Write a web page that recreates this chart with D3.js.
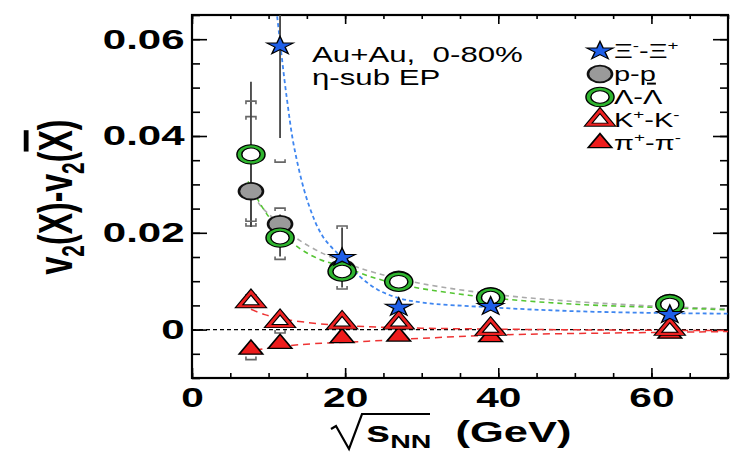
<!DOCTYPE html>
<html>
<head>
<meta charset="utf-8">
<script src="https://cdn.jsdelivr.net/npm/d3@7"></script>
<style>
  body { margin: 0; background: #fff; }
  text { font-family: "Liberation Sans", Arial, Helvetica, sans-serif; }
</style>
</head>
<body>
<svg id="chart" width="730" height="453"></svg>
<script>
// beam energies (GeV)
var energies = [7.7, 11.5, 19.6, 27, 39, 62.4]

// v2(X) - v2(Xbar) per particle, stat errors, sys errors (up / down)
var xiVals = [null, 0.0586, 0.0149, 0.0046, 0.0048, 0.0031]
var xiStat = [null, 0.019, 0.0062, 0.0016, 0.0009, 0.0008]
var xiSysUp = [null, 0.024, 0.0065, null, null, null]
var xiSysDn = [null, 0.024, 0.0065, null, null, null]

var pVals = [0.0286, 0.0218, 0.0127, 0.0103, 0.0069, 0.0055]
var pStat = [0.0072, 0.002, 0.001, 0.0008, 0.0006, 0.0005]
var pSysUp = [0.0154, 0.0033, null, null, null, null]
var pSysDn = [0.0072, null, null, null, null, null]

var lamVals = [0.0362, 0.019, 0.012, 0.0099, 0.0066, 0.0052]
var lamStat = [0.015, 0.0039, 0.0015, 0.001, 0.0008, 0.0006]
var lamSysUp = [0.011, null, null, null, null, null]
var lamSysDn = [0.0138, 0.0045, null, null, null, null]

var kVals = [0.0058, 0.0017, 0.0014, 0.0014, 0.0001, 0.0001]
var kStat = [0.001, 0.0006, 0.0005, 0.0004, 0.0004, 0.0004]
var kSysUp = [0.0014, null, null, null, null, null]
var kSysDn = [null, 0.0024, null, null, null, null]

var piVals = [-0.0041, -0.0029, -0.0017, -0.0014, -0.0015, -0.0008]
var piStat = [0.0008, 0.0006, 0.0004, 0.0004, 0.0004, 0.0004]
var piSysUp = [null, null, null, null, null, null]
var piSysDn = [0.0021, null, null, null, null, null]

// fit curves
var xiFitX = [10.8, 11.1, 11.6, 12.4, 13.4, 15.2, 17.1, 19.6, 21.9, 24.2, 26.8, 30, 39, 50, 62.4, 70]
var xiFitY = [0.069, 0.065, 0.058, 0.0476, 0.0372, 0.026, 0.0192, 0.0148, 0.011, 0.0083, 0.0066, 0.0056, 0.0046, 0.0038, 0.0034, 0.0033]
var pFitX = [7.4, 9, 11.5, 14, 17, 20, 24, 30, 40, 50, 62.4, 70]
var pFitY = [0.0295, 0.0255, 0.0218, 0.0185, 0.0158, 0.0138, 0.0117, 0.0095, 0.0072, 0.0058, 0.0047, 0.0043]
var lamFitX = [7.3, 9.3, 10.6, 13.7, 16.7, 19.7, 24.2, 28.8, 38.9, 50.6, 62.4, 70]
var lamFitY = [0.0306, 0.025, 0.0222, 0.0172, 0.0145, 0.013, 0.0105, 0.0088, 0.0066, 0.0052, 0.0045, 0.0041]
var kFitX = [7.7, 9.5, 12.3, 16.7, 23.2, 30, 40, 55, 70]
var kFitY = [0.0042, 0.0031, 0.0021, 0.0012, 0.0006, 0.0003, 0.0001, -0.0001, -0.0002]
var piFitX = [8.3, 11.5, 16, 23, 30, 40, 55, 70]
var piFitY = [-0.0042, -0.0035, -0.0029, -0.0024, -0.0018, -0.0011, -0.0007, -0.0004]

var xTicks = [0, 20, 40, 60]
var yTicks = [0, 0.02, 0.04, 0.06]
var legendLabels = ['Ξ', 'p', 'Λ', 'K', 'π']

;(function() {
  var svg = d3.select('#chart')
  var mL = 192, mR = 728, mT = 15, mB = 378
  var sx = 1.45 // the figure is stretched horizontally

  var x = d3.scaleLinear().domain([0, 70]).range([mL, mR])
  var y = d3.scaleLinear().domain([-0.01, 0.065]).range([mB, mT])

  svg.append('rect').attr('width', 730).attr('height', 453).attr('fill', '#fff')

  svg.append('clipPath').attr('id', 'plot')
    .append('rect').attr('x', mL).attr('y', mT).attr('width', mR - mL).attr('height', mB - mT)

  // axes: major + minor, ticks pointing inward
  function axisG(axis, tx, ty) {
    return svg.append('g').attr('transform', 'translate(' + tx + ',' + ty + ')').call(axis)
  }
  var minX = d3.range(0, 71, 5), minY = d3.range(-0.01, 0.0651, 0.005)
  var gx = axisG(d3.axisBottom(x).tickValues(xTicks).tickSizeInner(-10).tickSizeOuter(0).tickPadding(9).tickFormat(d3.format('d')), 0, mB)
  axisG(d3.axisBottom(x).tickValues(minX).tickSizeInner(-5).tickSizeOuter(0).tickFormat(''), 0, mB)
  axisG(d3.axisTop(x).tickValues(xTicks).tickSizeInner(-9).tickSizeOuter(0).tickFormat(''), 0, mT)
  axisG(d3.axisTop(x).tickValues(minX).tickSizeInner(-4).tickSizeOuter(0).tickFormat(''), 0, mT)
  var gy = axisG(d3.axisLeft(y).tickValues(yTicks).tickSizeInner(-15).tickSizeOuter(0).tickPadding(5)
    .tickFormat(function(d) { return d === 0 ? '0' : d3.format('.2f')(d) }), mL, 0)
  axisG(d3.axisLeft(y).tickValues(minY).tickSizeInner(-8).tickSizeOuter(0).tickFormat(''), mL, 0)
  axisG(d3.axisRight(y).tickValues(yTicks).tickSizeInner(-15).tickSizeOuter(0).tickFormat(''), mR, 0)
  axisG(d3.axisRight(y).tickValues(minY).tickSizeInner(-8).tickSizeOuter(0).tickFormat(''), mR, 0)

  svg.selectAll('.domain').remove()
  svg.selectAll('.tick line').attr('stroke', '#000').attr('stroke-width', 1.6)
  gx.selectAll('text').attr('font-size', 28).attr('font-weight', 'bold').attr('fill', '#000')
    .attr('transform', 'scale(1.45,1)')
  gy.selectAll('text').attr('font-size', 28).attr('font-weight', 'bold').attr('fill', '#000')
    .attr('transform', 'scale(1.5,1)')

  svg.append('rect').attr('x', mL).attr('y', mT).attr('width', mR - mL).attr('height', mB - mT)
    .attr('fill', 'none').attr('stroke', '#000').attr('stroke-width', 2.2)

  // zero line
  svg.append('line').attr('x1', mL).attr('x2', mR).attr('y1', y(0)).attr('y2', y(0))
    .attr('stroke', '#000').attr('stroke-width', 1.2).attr('stroke-dasharray', '4,3')

  var plot = svg.append('g').attr('clip-path', 'url(#plot)')

  // fits
  var line = d3.line().curve(d3.curveCatmullRom).x(function(d) { return x(d[0]) }).y(function(d) { return y(d[1]) })
  var fits = [
    { xs: piFitX, ys: piFitY, color: '#ee3333', dash: '7,5', w: 1.5 },
    { xs: kFitX, ys: kFitY, color: '#ee3333', dash: '7,5', w: 1.5 },
    { xs: pFitX, ys: pFitY, color: '#aaaaaa', dash: '5,4', w: 1.6 },
    { xs: lamFitX, ys: lamFitY, color: '#55c533', dash: '5,4', w: 1.6 },
    { xs: xiFitX, ys: xiFitY, color: '#3f86f0', dash: '4,3', w: 1.8 }
  ]
  fits.forEach(function(f) {
    plot.append('path').datum(d3.zip(f.xs, f.ys)).attr('d', line)
      .attr('fill', 'none').attr('stroke', f.color).attr('stroke-width', f.w).attr('stroke-dasharray', f.dash)
  })

  // series (drawn from bottom to top)
  var series = [
    { vals: piVals, stat: piStat, up: piSysUp, dn: piSysDn, kind: 'piMk' },
    { vals: kVals, stat: kStat, up: kSysUp, dn: kSysDn, kind: 'kMk' },
    { vals: pVals, stat: pStat, up: pSysUp, dn: pSysDn, kind: 'pMk' },
    { vals: lamVals, stat: lamStat, up: lamSysUp, dn: lamSysDn, kind: 'lamMk' },
    { vals: xiVals, stat: xiStat, up: xiSysUp, dn: xiSysDn, kind: 'xiMk' }
  ]

  var star = d3.symbol().type(d3.symbolStar).size(104)
  var tri = d3.symbol().type(d3.symbolTriangle).size(115)

  function marker(g, kind) {
    if (kind === 'xiMk') {
      g.append('path').attr('d', star).attr('fill', '#1f5fe8').attr('stroke', '#000').attr('stroke-width', 1)
    } else if (kind === 'pMk') {
      g.append('circle').attr('r', 8.3).attr('fill', '#9a9a9a').attr('stroke', '#111').attr('stroke-width', 1.8)
    } else if (kind === 'lamMk') {
      g.append('circle').attr('r', 8).attr('fill', '#fff').attr('stroke', '#000').attr('stroke-width', 4.4)
      g.append('circle').attr('r', 8).attr('fill', 'none').attr('stroke', '#2fb52f').attr('stroke-width', 2.4)
    } else if (kind === 'kMk') {
      g.append('path').attr('d', tri).attr('fill', '#fff').attr('stroke', '#000').attr('stroke-width', 4)
      g.append('path').attr('d', tri).attr('fill', 'none').attr('stroke', '#ee2222').attr('stroke-width', 2.2)
    } else {
      g.append('path').attr('d', tri).attr('fill', '#ee1c1c').attr('stroke', '#000').attr('stroke-width', 1.3)
    }
  }

  function bracket(xp, yp, dir) {
    // dir = 1 for upper bracket (legs point down), -1 for lower
    return 'M' + (xp - 5) + ',' + (yp + 3 * dir) + 'L' + (xp - 5) + ',' + yp + 'L' + (xp + 5) + ',' + yp + 'L' + (xp + 5) + ',' + (yp + 3 * dir)
  }

  series.forEach(function(s) {
    energies.forEach(function(e, i) {
      var v = s.vals[i]
      if (v === null) return
      var px = x(e)
      plot.append('line').attr('x1', px).attr('x2', px).attr('y1', y(v - s.stat[i])).attr('y2', y(v + s.stat[i]))
        .attr('stroke', '#444').attr('stroke-width', 1.8)
      if (s.up[i] !== null) plot.append('path').attr('d', bracket(px, y(v + s.up[i]), 1))
        .attr('fill', 'none').attr('stroke', '#666').attr('stroke-width', 1.6)
      if (s.dn[i] !== null) plot.append('path').attr('d', bracket(px, y(v - s.dn[i]), -1))
        .attr('fill', 'none').attr('stroke', '#666').attr('stroke-width', 1.6)
    })
  })
  series.forEach(function(s) {
    energies.forEach(function(e, i) {
      if (s.vals[i] === null) return
      var g = svg.append('g').attr('transform', 'translate(' + x(e) + ',' + y(s.vals[i]) + ') scale(' + sx + ',1)')
      marker(g, s.kind)
    })
  })

  // wide text helper
  function label(px, py, k) {
    return svg.append('g').attr('transform', 'translate(' + px + ',' + py + ') scale(' + k + ',1)').append('text')
  }

  // annotation
  label(312, 62, 1.42).attr('font-size', 22).text('Au+Au,\u00a0\u00a00-80%')
  label(312, 85, 1.42).attr('font-size', 22).text('η-sub EP')

  // legend
  var legKinds = ['xiMk', 'pMk', 'lamMk', 'kMk', 'piMk']
  var legY = [51, 74, 97, 120, 143]
  legKinds.forEach(function(k, i) {
    var g = svg.append('g').attr('transform', 'translate(600,' + legY[i] + ') scale(' + sx + ',1)')
    marker(g, k)
  })
  function legText(i) { return label(614, legY[i] + 7, 1.45).attr('font-size', 20) }
  var t0 = legText(0)
  t0.append('tspan').text(legendLabels[0])
  t0.append('tspan').attr('font-size', 13).attr('dy', -8).text('-')
  t0.append('tspan').attr('dy', 8).text('-' + legendLabels[0])
  t0.append('tspan').attr('font-size', 13).attr('dy', -8).text('+')
  var t1 = legText(1)
  t1.append('tspan').text(legendLabels[1] + '-')
  t1.append('tspan').style('text-decoration', 'underline').text(legendLabels[1])
  legText(2).text(legendLabels[2] + '-' + legendLabels[2])
  var t3 = legText(3)
  t3.append('tspan').text(legendLabels[3])
  t3.append('tspan').attr('font-size', 13).attr('dy', -8).text('+')
  t3.append('tspan').attr('dy', 8).text('-' + legendLabels[3])
  t3.append('tspan').attr('font-size', 13).attr('dy', -8).text('-')
  var t4 = legText(4)
  t4.append('tspan').text(legendLabels[4])
  t4.append('tspan').attr('font-size', 13).attr('dy', -8).text('+')
  t4.append('tspan').attr('dy', 8).text('-' + legendLabels[4])
  t4.append('tspan').attr('font-size', 13).attr('dy', -8).text('-')

  // y title
  var yt = svg.append('g').attr('transform', 'translate(72,197) scale(1.5,1) rotate(-90)')
    .append('text').attr('text-anchor', 'middle').attr('font-size', 32).attr('font-weight', 'bold')
  yt.append('tspan').text('v')
  yt.append('tspan').attr('font-size', 21).attr('dy', 8).text('2')
  yt.append('tspan').attr('dy', -8).text('(X)-v')
  yt.append('tspan').attr('font-size', 21).attr('dy', 8).text('2')
  yt.append('tspan').attr('dy', -8).text('(')
  yt.append('tspan').style('text-decoration', 'overline').text('X')
  yt.append('tspan').text(')')

  // x title
  svg.append('path').attr('d', 'M331,429L336,426L349,449L362,414L430,414')
    .attr('fill', 'none').attr('stroke', '#000').attr('stroke-width', 2.2)
  var xt = label(366, 442, 1.5).attr('font-size', 29).attr('font-weight', 'bold')
  xt.append('tspan').text('s')
  xt.append('tspan').attr('font-size', 19).attr('dy', 6).text('NN')
  xt.append('tspan').attr('dy', -6).attr('font-size', 29).text('\u00a0\u00a0(GeV)')
})()
</script>
</body>
</html>
